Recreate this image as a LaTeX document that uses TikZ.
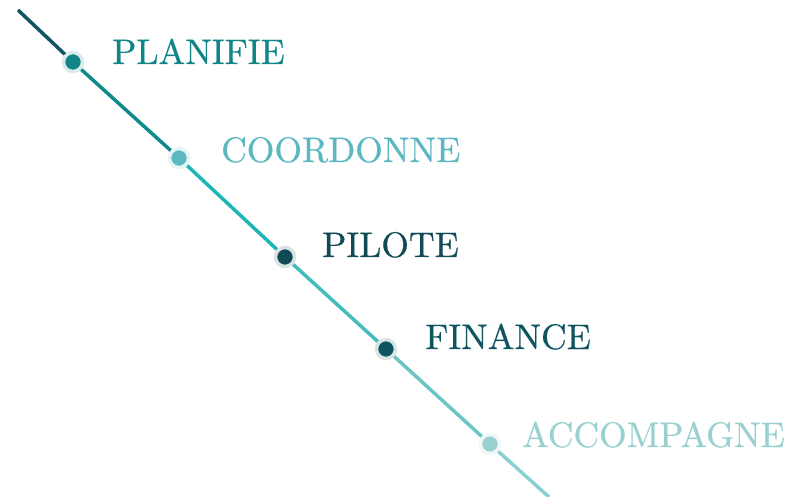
\documentclass[tikz,border=0pt]{standalone}
\usepackage{fontspec}
\usepackage{tikz}
\usetikzlibrary{positioning, calc}
\newfontfamily\slabfont{lmroman10-regular.otf}[FakeBold=0.6]
\definecolor{planColor}{HTML}{0F8585}
\definecolor{coordColor}{HTML}{5BB8C0}
\definecolor{pilotColor}{HTML}{0F4A55}
\definecolor{finColor}{HTML}{0E5560}
\definecolor{accColor}{HTML}{9BD0D0}
\definecolor{lineA}{HTML}{0F5560}
\definecolor{lineB}{HTML}{0F8A8C}
\definecolor{lineC}{HTML}{1FB5B5}
\definecolor{lineD}{HTML}{45BCBC}
\definecolor{lineE}{HTML}{6CC5C5}
\definecolor{lineF}{HTML}{8AD0D0}

\begin{document}
\begin{tikzpicture}[x=1pt,y=-1pt,
      dot node/.style={circle,inner sep=0pt,minimum size=19pt,fill=#1,draw=#1!16,line width=3.5pt},
      word node/.style={anchor=base west,inner sep=0pt,text=#1,font=\slabfont\fontsize{35.5}{36}\selectfont},
      seg/.style={line width=3.5pt,draw=#1}]
  \useasboundingbox (0,0) rectangle (788,497);
  \coordinate (top) at (18,10);
  \coordinate (bottom) at (549,497);
  \node[dot node=planColor] (1) at (73,62) {};
  \node[dot node=coordColor] (2) at (179,158) {};
  \node[dot node=pilotColor] (3) at (285,257) {};
  \node[dot node=finColor] (4) at (386,349) {};
  \node[dot node=accColor] (5) at (490,444) {};
  \draw[seg=lineA] (top) -- (1);
  \draw[seg=lineB] (1) -- (2);
  \draw[seg=lineC] (2) -- (3);
  \draw[seg=lineD] (3) -- (4);
  \draw[seg=lineE] (4) -- (5);
  \draw[seg=lineF] (5) -- (bottom);
  \node[word node=planColor] (plan) at ($(1)+(39,2)$) {PLANIFIE};
  \node[word node=coordColor] (coord) at ($(2)+(42,4)$) {COORDONNE};
  \node[word node=pilotColor] (pilot) at ($(3)+(37,0)$) {PILOTE};
  \node[word node=finColor] (fin) at ($(4)+(39,0)$) {FINANCE};
  \node[word node=accColor] (acc) at ($(5)+(32,3)$) {ACCOMPAGNE};
\end{tikzpicture}
\end{document}
